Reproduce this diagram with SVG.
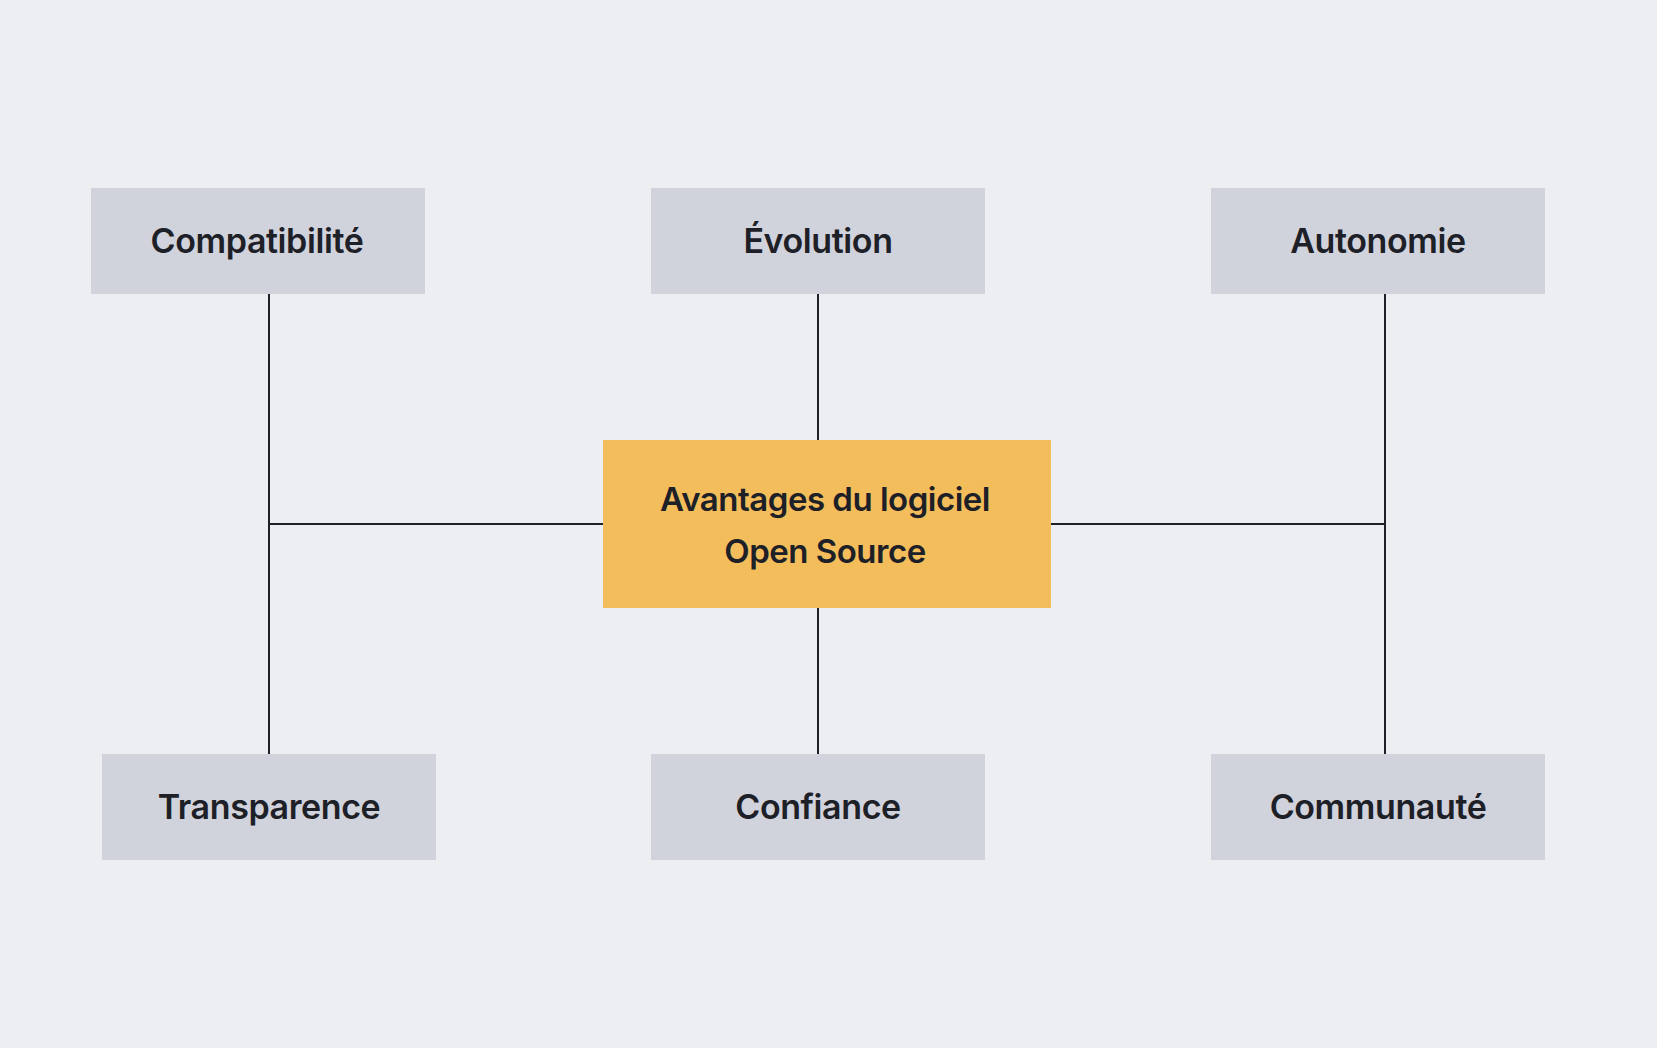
<svg xmlns="http://www.w3.org/2000/svg" width="1657" height="1048" viewBox="0 0 1657 1048">
<style>
.bg{fill:#EDEEF2}
.box{fill:#D0D3DB}
.main{fill:#F3BD5B}
.lbl{font-family:Inter,"Noto Sans","Liberation Sans",sans-serif;font-weight:600;font-size:34px;fill:#1E2028;text-anchor:middle;letter-spacing:-0.4px}
.ctr{font-size:33px;letter-spacing:-0.5px}
.edge{stroke:#1E2028;stroke-width:2;fill:none}
</style>
<rect class="bg" x="0" y="0" width="1657" height="1048"/>
<g id="connectors">
<line class="edge" x1="269" y1="294" x2="269" y2="754"/>
<line class="edge" x1="269" y1="524" x2="603" y2="524"/>
<line class="edge" x1="1385" y1="294" x2="1385" y2="754"/>
<line class="edge" x1="1051" y1="524" x2="1385" y2="524"/>
<line class="edge" x1="818" y1="294" x2="818" y2="440"/>
<line class="edge" x1="818" y1="608" x2="818" y2="754"/>
</g>
<g id="compatibilite">
<rect class="box" x="91" y="188" width="334" height="106"/>
<text class="lbl" x="257" y="253">Compatibilité</text>
</g>
<g id="evolution">
<rect class="box" x="651" y="188" width="334" height="106"/>
<text class="lbl" x="818" y="253">Évolution</text>
</g>
<g id="autonomie">
<rect class="box" x="1211" y="188" width="334" height="106"/>
<text class="lbl" x="1378" y="253">Autonomie</text>
</g>
<g id="center">
<rect class="main" x="603" y="440" width="448" height="168"/>
<text class="lbl ctr" x="825" y="511">Avantages du logiciel</text>
<text class="lbl ctr" x="825" y="563">Open Source</text>
</g>
<g id="transparence">
<rect class="box" x="102" y="754" width="334" height="106"/>
<text class="lbl" x="269" y="819">Transparence</text>
</g>
<g id="confiance">
<rect class="box" x="651" y="754" width="334" height="106"/>
<text class="lbl" x="818" y="819">Confiance</text>
</g>
<g id="communaute">
<rect class="box" x="1211" y="754" width="334" height="106"/>
<text class="lbl" x="1378" y="819">Communauté</text>
</g>
</svg>
